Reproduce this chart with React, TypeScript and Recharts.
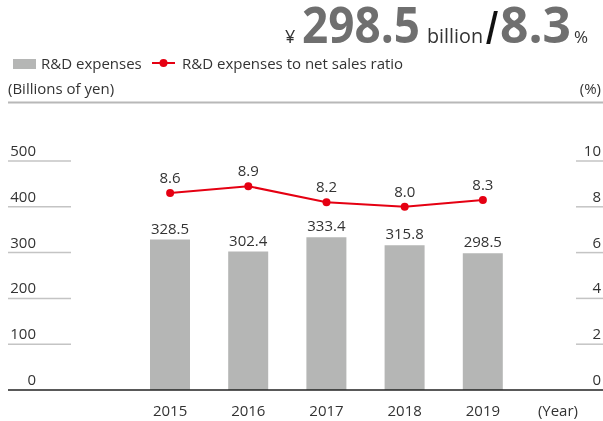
import React from "react";
import { ComposedChart, Bar, Line, XAxis, YAxis, LabelList } from "recharts";

const years = ["2015", "2016", "2017", "2018", "2019"];
const rdExpenses = [328.5, 302.4, 333.4, 315.8, 298.5];
const rdRatio = [8.6, 8.9, 8.2, 8.0, 8.3];
const leftTicks = [0, 100, 200, 300, 400, 500];
const rightTicks = [0, 2, 4, 6, 8, 10];

const data = years.map((y, i) => ({ year: y, expenses: rdExpenses[i], ratio: rdRatio[i] }));

const FONT = "'Open Sans', 'Noto Sans', sans-serif";
const TXT = "#333333";
const GRID = "#c4c4c4";
const RED = "#e50012";
const BAR = "#b5b6b5";
const W = 603;
const H = 421;

const LeftTick = (props: any) => {
  const { y, payload } = props;
  const v = payload.value;
  return (
    <g>
      {v === 0 ? (
        <line x1={8} x2={W} y1={y} y2={y} stroke="#222" strokeWidth={1.5} />
      ) : (
        <line x1={8} x2={71} y1={y} y2={y} stroke={GRID} strokeWidth={1.5} />
      )}
      <text x={36} y={y - 5} textAnchor="end" fontSize={15} fill={TXT} fontFamily={FONT}>
        {v}
      </text>
    </g>
  );
};

const RightTick = (props: any) => {
  const { y, payload } = props;
  const v = payload.value;
  return (
    <g>
      {v !== 0 && <line x1={576} x2={W} y1={y} y2={y} stroke={GRID} strokeWidth={1.5} />}
      <text x={601} y={y - 5} textAnchor="end" fontSize={15} fill={TXT} fontFamily={FONT}>
        {v}
      </text>
    </g>
  );
};

const XTick = (props: any) => {
  const { x, payload } = props;
  return (
    <text x={x} y={416} textAnchor="middle" fontSize={15} fill={TXT} fontFamily={FONT}>
      {payload.value}
    </text>
  );
};

export default function App() {
  return (
    <div style={{ position: "fixed", left: 0, top: 0, width: W, height: H }}>
      <ComposedChart
        width={W}
        height={H}
        data={data}
        margin={{ top: 161, right: 0, bottom: 6, left: 0 }}
      >
        <XAxis
          dataKey="year"
          axisLine={false}
          tickLine={false}
          height={25}
          tick={<XTick />}
          interval={0}
        />
        <YAxis
          yAxisId="left"
          orientation="left"
          width={131}
          domain={[0, 500]}
          ticks={leftTicks}
          axisLine={false}
          tickLine={false}
          tick={<LeftTick />}
          interval={0}
        />
        <YAxis
          yAxisId="right"
          orientation="right"
          width={81}
          domain={[0, 10]}
          ticks={rightTicks}
          axisLine={false}
          tickLine={false}
          tick={<RightTick />}
          interval={0}
        />
        <Bar yAxisId="left" dataKey="expenses" fill={BAR} barSize={40} isAnimationActive={false}>
          <LabelList
            dataKey="expenses"
            position="top"
            offset={6}
            fontSize={15}
            fill={TXT}
            fontFamily={FONT}
            formatter={(v: any) => Number(v).toFixed(1)}
          />
        </Bar>
        <Line
          yAxisId="right"
          dataKey="ratio"
          stroke={RED}
          strokeWidth={2}
          dot={{ r: 4, fill: RED, stroke: "none" }}
          isAnimationActive={false}
        >
          <LabelList
            dataKey="ratio"
            position="top"
            offset={10}
            fontSize={15}
            fill={TXT}
            fontFamily={FONT}
            formatter={(v: any) => Number(v).toFixed(1)}
          />
        </Line>
      </ComposedChart>
      <svg
        width={W}
        height={H}
        style={{ position: "absolute", left: 0, top: 0, pointerEvents: "none" }}
      >
        <g fontFamily={FONT}>
          <text x={285} y={43} fontSize={18} fill={TXT}>¥</text>
          <text x={302} y={43} fontSize={50} fontWeight={700} fill="#6f6f6f" textLength={118} lengthAdjust="spacingAndGlyphs">298.5</text>
          <text x={427} y={43} fontSize={20} fill={TXT} textLength={56} lengthAdjust="spacingAndGlyphs">billion</text>
          <text x={486} y={44} fontSize={46} fontWeight={700} fill="#111" textLength={12} lengthAdjust="spacingAndGlyphs">/</text>
          <text x={500} y={43} fontSize={50} fontWeight={700} fill="#6f6f6f" textLength={71} lengthAdjust="spacingAndGlyphs">8.3</text>
          <text x={574} y={43} fontSize={17} fill={TXT}>%</text>

          <rect x={13} y={59} width={23} height={10} fill={BAR} />
          <text x={41} y={69} fontSize={15} fill={TXT}>R&amp;D expenses</text>
          <line x1={152} x2={175} y1={63} y2={63} stroke={RED} strokeWidth={2} />
          <circle cx={163.5} cy={63} r={4} fill={RED} />
          <text x={182} y={69} fontSize={15} fill={TXT}>R&amp;D expenses to net sales ratio</text>

          <text x={8} y={94} fontSize={15} fill={TXT}>(Billions of yen)</text>
          <text x={601} y={94} fontSize={15} fill={TXT} textAnchor="end">(%)</text>
          <line x1={8} x2={603} y1={102.5} y2={102.5} stroke="#b8b8b8" strokeWidth={2} />

          <text x={578} y={416} fontSize={15} fill={TXT} textAnchor="end">(Year)</text>
        </g>
      </svg>
    </div>
  );
}
